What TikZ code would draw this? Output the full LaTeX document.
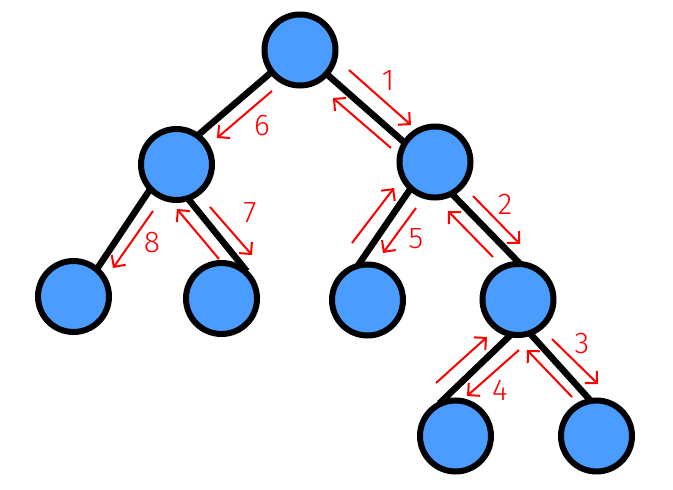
\documentclass[tikz,border=0pt]{standalone}
\usepackage{fontspec}
\setmainfont{Fira Sans Light}
\usetikzlibrary{arrows.meta}
\pgfdeclarelayer{bg}
\pgfsetlayers{bg,main}
\definecolor{nodeblue}{RGB}{74,156,255}
\begin{document}
\begin{tikzpicture}[x=1pt,y=-1pt,
  tn/.style={circle,draw=black,fill=nodeblue,line width=6pt,minimum size=71pt,inner sep=0pt},
  edge/.style={line width=6.5pt,shorten <=-6pt,shorten >=-6pt},
  walk/.style={red,line width=2pt,-{Straight Barb[length=8.5pt,width=17pt]}},
  num/.style={red,font=\fontsize{30}{30}\selectfont,inner sep=0pt}]
\useasboundingbox (0,0) rectangle (673,490);
% tree nodes
\node[tn] (root) at (300,50) {};
\node[tn] (L) at (176.5,164.5) {};
\node[tn] (R) at (435,162) {};
\node[tn] (LL) at (73.5,296.5) {};
\node[tn] (RL) at (221.5,298.5) {};
\node[tn] (ML) at (367.5,300) {};
\node[tn] (MR) at (518,299.5) {};
\node[tn] (BL) at (455.5,436) {};
\node[tn] (BR) at (596.5,436) {};
% edges
\begin{pgfonlayer}{bg}
\draw[edge] (root.218) -- (L.53);
\draw[edge] (root.318) -- (R.147);
\draw[edge] (L.224) -- (LL.50);
\draw[edge] (L.290) -- (RL.56);
\draw[edge] (R.228) -- (ML.101);
\draw[edge] (R.299) -- (MR.91);
\draw[edge] (MR.256) -- (BL.108);
\draw[edge] (MR.291) -- (BR.102);
\end{pgfonlayer}
% walk arrows
\coordinate (a1s) at (349,70);  \coordinate (a1e) at (411,125);
\coordinate (b1s) at (391,148); \coordinate (b1e) at (333,98);
\coordinate (a2s) at (473,196); \coordinate (a2e) at (520,244);
\coordinate (b2s) at (493,257); \coordinate (b2e) at (448,211);
\coordinate (a3s) at (552,339); \coordinate (a3e) at (598,384);
\coordinate (b3s) at (572,397); \coordinate (b3e) at (527,350);
\coordinate (a4s) at (519,350); \coordinate (a4e) at (467,396);
\coordinate (b4s) at (436,383); \coordinate (b4e) at (487,337);
\coordinate (a5s) at (416,208); \coordinate (a5e) at (383,253);
\coordinate (b5s) at (352,243); \coordinate (b5e) at (394,188);
\coordinate (a6s) at (272,91);  \coordinate (a6e) at (217,138);
\coordinate (a7s) at (210,207); \coordinate (a7e) at (252,255);
\coordinate (b7s) at (219,259); \coordinate (b7e) at (177,209);
\coordinate (a8s) at (153,211); \coordinate (a8e) at (113,268);
\foreach \p in {a1,b1,a2,b2,a3,b3,a4,b4,a5,b5,a6,a7,b7,a8}
  \draw[walk] (\p s) -- (\p e);
% labels
\node[num] (n1) at (388,81) {1};
\node[num] (n2) at (505,204) {2};
\node[num] (n3) at (582,344) {3};
\node[num] (n4) at (500,390) {4};
\node[num] (n5) at (416,239) {5};
\node[num] (n6) at (262,126) {6};
\node[num] (n7) at (250,213) {7};
\node[num] (n8) at (152,243) {8};
\end{tikzpicture}
\end{document}
